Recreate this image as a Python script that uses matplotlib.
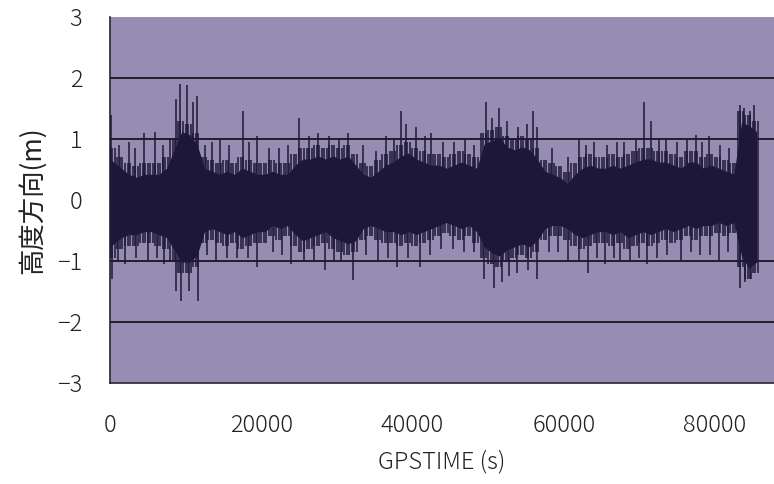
import numpy as np
import matplotlib
matplotlib.use("Agg")
import matplotlib.pyplot as plt

plt.rcParams['font.family'] = ['Noto Sans CJK JP', 'DejaVu Sans']

# core band of the height error, one pair per 1000 s bin
bin_step = 1000
core_hi = [0.85, 0.7, 0.6, 0.55, 0.6, 0.6, 0.6, 0.7, 1.0, 1.3,
           1.25, 1.1, 0.7, 0.65, 0.6, 0.65, 0.6, 0.7, 0.65, 0.6,
           0.6, 0.65, 0.6, 0.6, 0.75, 0.85, 0.85, 0.9, 0.85, 0.9,
           0.85, 0.9, 0.75, 0.6, 0.55, 0.65, 0.75, 0.8, 0.9, 0.95,
           0.85, 0.8, 0.75, 0.75, 0.7, 0.75, 0.8, 0.75, 0.7, 1.1,
           1.15, 1.2, 1.05, 1.0, 1.05, 1.0, 0.85, 0.65, 0.6, 0.55,
           0.45, 0.6, 0.7, 0.75, 0.7, 0.7, 0.75, 0.7, 0.75, 0.8,
           0.85, 0.85, 0.8, 0.8, 0.75, 0.7, 0.8, 0.8, 0.7, 0.75,
           0.7, 0.65, 0.6, 1.45, 1.4, 1.3]
core_lo = [-0.95, -0.8, -0.75, -0.75, -0.7, -0.7, -0.75, -0.8, -1.0, -1.2,
           -1.2, -1.1, -0.7, -0.65, -0.7, -0.75, -0.7, -0.8, -0.75, -0.7,
           -0.7, -0.6, -0.65, -0.6, -0.75, -0.85, -0.8, -0.75, -0.7, -0.8,
           -0.85, -0.9, -0.85, -0.65, -0.6, -0.65, -0.7, -0.7, -0.75, -0.7,
           -0.75, -0.7, -0.65, -0.6, -0.55, -0.6, -0.65, -0.6, -0.7, -0.95,
           -1.05, -1.1, -1.0, -0.95, -0.9, -0.95, -0.85, -0.65, -0.6, -0.6,
           -0.65, -0.75, -0.8, -0.75, -0.7, -0.7, -0.75, -0.7, -0.8, -0.75,
           -0.7, -0.75, -0.7, -0.65, -0.7, -0.65, -0.6, -0.65, -0.6, -0.6,
           -0.55, -0.6, -0.55, -1.1, -1.3, -1.2]

# isolated spikes (GPSTIME s, height m)
spike_up_t = [200, 1200, 2500, 3300, 4500, 6000, 7000, 8800, 9300, 10200,
              11000, 11500, 12600, 13500, 14500, 15800, 17600, 18400, 19500, 21000,
              22300, 23500, 25000, 26300, 27500, 29000, 30300, 31500, 33500, 35200,
              36500, 37600, 38500, 39200, 40500, 41600, 42500, 44000, 45500, 47000,
              48200, 49700, 50500, 51400, 52500, 54000, 55200, 56000, 56400, 58500,
              60500, 62000, 63000, 64000, 65700, 67000, 68000, 69500, 70600, 71500,
              72600, 73500, 75000, 76300, 77500, 78300, 79200, 80600, 81800, 83300,
              83800, 84600, 85200]
spike_up_v = [1.4, 0.9, 0.95, 0.85, 1.1, 1.12, 0.9, 1.65, 1.9, 1.88,
              1.6, 1.7, 0.9, 0.95, 1.0, 0.9, 1.45, 0.95, 1.05, 0.85,
              0.85, 0.9, 1.35, 1.05, 1.1, 1.05, 1.0, 1.1, 0.9, 0.8,
              1.05, 1.0, 1.45, 1.25, 1.2, 1.05, 1.1, 0.95, 0.95, 1.0,
              0.9, 1.6, 1.35, 1.5, 1.3, 1.2, 1.25, 1.45, 1.2, 0.85,
              0.7, 1.0, 0.9, 0.95, 0.9, 0.95, 0.95, 1.0, 1.6, 1.3,
              1.0, 1.0, 0.95, 1.0, 1.07, 0.95, 1.05, 0.9, 0.85, 1.55,
              1.5, 1.45, 1.55]
spike_dn_t = [300, 1100, 2000, 3500, 5000, 6200, 7200, 8700, 9400, 10500,
              11600, 12800, 14000, 15500, 16800, 18200, 19500, 21500, 22800, 24000,
              25600, 27000, 28500, 29600, 30500, 32200, 33800, 35500, 36800, 38000,
              39400, 41000, 42300, 43800, 45300, 46800, 48200, 49500, 50800, 51800,
              52800, 53800, 55300, 56500, 58000, 59300, 60500, 62000, 63200, 64400,
              65500, 66600, 67500, 68800, 70000, 71000, 72300, 73700, 75500, 76800,
              78000, 79300, 80500, 81700, 83300, 84000, 84700]
spike_dn_v = [-1.3, -1.0, -1.05, -0.95, -1.0, -0.95, -1.05, -1.5, -1.65, -1.5,
              -1.65, -0.9, -1.0, -0.95, -0.95, -0.95, -1.1, -0.85, -0.9, -1.05,
              -1.0, -1.0, -1.15, -1.0, -1.0, -1.32, -0.9, -1.0, -0.95, -1.1,
              -0.95, -1.1, -0.9, -0.8, -0.8, -0.85, -0.85, -1.3, -1.45, -1.35,
              -1.25, -1.2, -1.15, -1.3, -0.85, -0.85, -1.0, -1.0, -1.2, -0.95,
              -1.05, -0.95, -1.0, -1.0, -0.95, -1.05, -0.95, -0.9, -1.0, -0.85,
              -0.9, -0.9, -1.0, -0.85, -1.45, -1.35, -1.3]

xticks = [0, 20000, 40000, 60000, 80000]
yticks = [-3, -2, -1, 0, 1, 2, 3]

bg = '#978db2'
ink = '#1d1838'
txt = '#222222'
fringe = 0.18   # depth of the striped fringe at the band edge

fig = plt.figure(figsize=(7.74, 4.84), dpi=100)
ax = fig.add_axes([0.142, 0.209, 0.858, 0.756])
ax.set_facecolor(bg)

hi = np.array(core_hi)
lo = np.array(core_lo)
t0 = np.arange(len(hi)) * bin_step
tc = t0 + bin_step / 2
tc[0] = 0
tc[-1] = t0[-1] + bin_step / 2

# solid body, then a comb of vertical strokes up to the band edge
ax.fill_between(tc, lo + fringe, hi - fringe, color=ink, lw=0, zorder=3)
for off in [0, 330, 660]:
    ax.vlines(t0 + off, lo, hi, color=ink, lw=1.1, zorder=3)
ax.vlines(spike_up_t, 0, spike_up_v, color=ink, lw=1.1, zorder=3)
ax.vlines(spike_dn_t, spike_dn_v, 0, color=ink, lw=1.1, zorder=3)

for yv in [-2, -1, 1, 2]:
    ax.axhline(yv, color='#231a2a', lw=1.4, zorder=2)

ax.set_xlim(0, 87800)
ax.set_ylim(-3, 3)
ax.set_xticks(xticks)
ax.set_yticks(yticks)
ax.tick_params(axis='x', length=0, pad=22, labelsize=17, labelcolor=txt)
ax.tick_params(axis='y', length=0, pad=20, labelsize=17, labelcolor=txt)
for lab in ax.get_xticklabels() + ax.get_yticklabels():
    lab.set_fontweight('light')
for s in ['top', 'right']:
    ax.spines[s].set_visible(False)
for s in ['left', 'bottom']:
    ax.spines[s].set_color('#2a2430')
    ax.spines[s].set_linewidth(1.2)

ax.set_xlabel('GPSTIME (s)', fontsize=17, color=txt, labelpad=8, fontweight='light')
ax.set_ylabel('高度方向(m)', fontsize=19, color=txt, labelpad=8)

fig.savefig('out.png', dpi=100)
